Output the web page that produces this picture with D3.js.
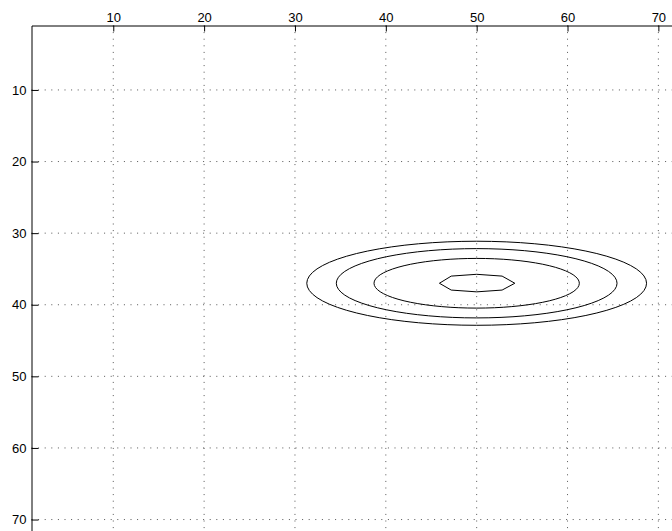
<!DOCTYPE html>
<html>
<head>
<meta charset="utf-8">
<script src="https://cdn.jsdelivr.net/npm/d3@7"></script>
<style>
  body { margin: 0; background: #fff; }
  svg { display: block; }
  .tick text { font-family: "Liberation Sans", Arial, sans-serif; font-size: 13px; fill: #000; }
</style>
</head>
<body>
<div id="chart"></div>
<script>
// tick labels on both axes
const xTicks = [10, 20, 30, 40, 50, 60, 70];
const yTicks = [10, 20, 30, 40, 50, 60, 70];

// contour centre and the three smooth rings (half widths / half heights in data units)
const centre = [50, 37];
const ringHalfW = [18.7, 15.45, 11.3];
const ringHalfH = [5.87, 4.84, 3.47];

// innermost contour, read vertex by vertex
const innerX = [45.9, 47.2, 50.0, 52.8, 54.2, 52.8, 50.0, 47.2];
const innerY = [37.0, 36.0, 35.75, 36.0, 37.0, 37.95, 38.2, 37.95];

const W = 672, H = 531;
const padL = 31.5, padT = 25.5;

const svg = d3.select("#chart").append("svg")
  .attr("width", W)
  .attr("height", H);

// axis ij: y grows downward, x axis on top
const x = d3.scaleLinear().domain([1, 71.5]).range([padL, W]);
const y = d3.scaleLinear().domain([1, 71.6]).range([padT, H]);

// dotted grid
const grid = svg.append("g").attr("stroke", "#555").attr("stroke-width", 1)
  .attr("stroke-dasharray", "1,5.6");
grid.selectAll(".gx").data(xTicks).enter().append("line")
  .attr("x1", d => x(d)).attr("x2", d => x(d))
  .attr("y1", padT).attr("y2", H);
grid.selectAll(".gy").data(yTicks).enter().append("line")
  .attr("y1", d => y(d)).attr("y2", d => y(d))
  .attr("x1", padL).attr("x2", W);

// contour lines
const line = d3.line().x(d => x(d[0])).y(d => y(d[1])).curve(d3.curveLinearClosed);
const steps = d3.range(0, 72);
const rings = ringHalfW.map((rw, i) => steps.map(k => {
  const a = k / 72 * 2 * Math.PI;
  return [centre[0] + rw * Math.cos(a), centre[1] + ringHalfH[i] * Math.sin(a)];
}));
rings.push(innerX.map((v, i) => [v, innerY[i]]));

svg.append("g").selectAll("path").data(rings).enter().append("path")
  .attr("d", line)
  .attr("fill", "none")
  .attr("stroke", "#000")
  .attr("stroke-width", 1);

// axes
const xAxis = d3.axisTop(x).tickValues(xTicks).tickSize(-6).tickPadding(4).tickSizeOuter(0);
const yAxis = d3.axisLeft(y).tickValues(yTicks).tickSize(-7).tickPadding(5).tickSizeOuter(0);

const gx = svg.append("g").attr("transform", `translate(0,${padT})`).call(xAxis);
const gy = svg.append("g").attr("transform", `translate(${padL},0)`).call(yAxis);
[gx, gy].forEach(g => {
  g.select(".domain").attr("stroke", "#000");
  g.selectAll(".tick line").attr("stroke", "#000");
});
</script>
</body>
</html>
